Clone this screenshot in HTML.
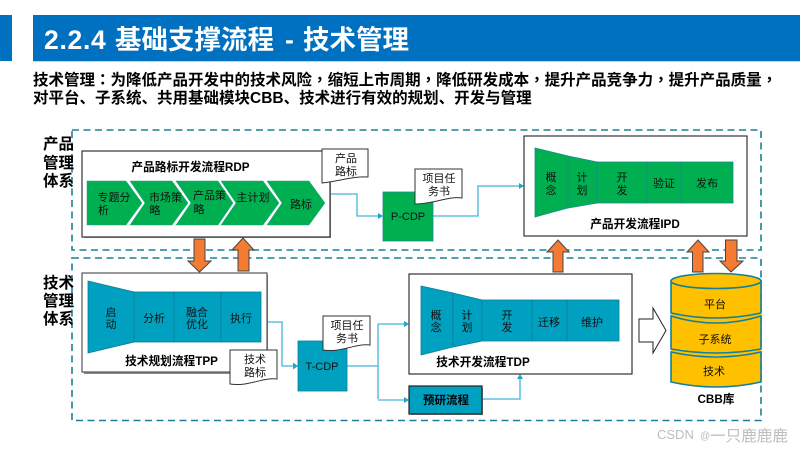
<!DOCTYPE html>
<html>
<head>
<meta charset="utf-8">
<style>
html,body{margin:0;padding:0;background:#fff;width:800px;height:450px;overflow:hidden}
svg{display:block}
text{font-family:"Liberation Sans","Noto Sans CJK SC",sans-serif;fill:#111;text-anchor:middle}
.s{font-size:11px}
.b{font-size:11.7px;font-weight:700;fill:#000}
.l{font-size:15.5px;font-weight:700;fill:#000;text-anchor:start}
.h{font-size:15.5px;font-weight:700;fill:#000;text-anchor:start}
.p{font-family:"Noto Sans CJK TC",sans-serif}
.ti{font-size:26.5px;font-weight:700;fill:#fff;text-anchor:start}
.dash{fill:none;stroke:#1A8098;stroke-width:1.6;stroke-dasharray:7 4.5}
.box{fill:#fff;stroke:#333;stroke-width:1.2}
.g{fill:#00B050;stroke:#2A9D8F;stroke-width:.5}
.gs{fill:#00B050;stroke:#1B8A8E;stroke-width:.8}
.t{fill:#00A0C0;stroke:#0D7F99;stroke-width:.8}
.ar{fill:#F57A32;stroke:#444;stroke-width:1}
.doc{fill:#fff;stroke:#333;stroke-width:1}
.c{fill:none;stroke:#45B5D6;stroke-width:1.3}
.a{fill:#1FA5C8}
.cy{fill:#FFC000;stroke:#12809A;stroke-width:1.6}
.w{fill:#BDBDBD;text-anchor:start}
</style>
</head>
<body>
<svg width="800" height="450" viewBox="0 0 800 450" xmlns="http://www.w3.org/2000/svg">
<rect width="800" height="450" fill="#fff"/>
<!-- header -->
<rect x="0" y="15" width="12" height="46" fill="#0070C0"/>
<rect x="33" y="15" width="767" height="46" fill="#0070C0"/>
<rect x="33" y="61" width="767" height="1" fill="#BBD8EF"/>
<text class="ti" x="44" y="49" style="letter-spacing:.7px">2.2.4</text>
<text class="ti" x="115" y="49">基础支撑流程</text>
<text class="ti" x="285" y="49">-</text>
<text class="ti" x="303" y="49">技术管理</text>
<text class="h" x="33" y="85">技术管理<tspan class="p" lang="zh-TW">：</tspan>为降低产品开发中的技术风险<tspan class="p" lang="zh-TW">，</tspan>缩短上市周期<tspan class="p" lang="zh-TW">，</tspan>降低研发成本<tspan class="p" lang="zh-TW">，</tspan>提升产品竞争力<tspan class="p" lang="zh-TW">，</tspan>提升产品质量<tspan class="p" lang="zh-TW">，</tspan></text>
<text class="h" x="33" y="103">对平台、子系统、共用基础模块CBB、技术进行有效的规划、开发与管理</text>

<!-- dashed regions -->
<rect class="dash" x="72" y="130" width="689" height="120"/>
<rect class="dash" x="72" y="258" width="689" height="162.500"/>

<!-- side labels -->
<text class="l" x="43" y="149">产品</text>
<text class="l" x="43" y="168">管理</text>
<text class="l" x="43" y="186">体系</text>
<text class="l" x="43" y="288">技术</text>
<text class="l" x="43" y="306">管理</text>
<text class="l" x="43" y="324">体系</text>

<!-- connectors -->
<path class="c" d="M330 194H357V216H378"/>
<path class="a" d="M383 216l-5-3v6z"/>
<path class="c" d="M433 216H478V186H519"/>
<path class="a" d="M524 186l-5-3v6z"/>
<path class="c" d="M267 322H282V366H293"/>
<path class="a" d="M298 366l-5-3.500v7z"/>
<path class="c" d="M347 366H378M378 324V399M378 324H404M378 400H404"/>
<path class="a" d="M409 324l-5-3v6zM409 400l-5-3v6z"/>
<path class="c" d="M482 399H520V379"/>
<path class="a" d="M520 374l-3 5h6z"/>

<!-- RDP -->
<rect x="84" y="153" width="247" height="85" fill="#999"/>
<rect class="box" x="82" y="151" width="248" height="86"/>
<text class="b" x="190.500" y="171">产品路标开发流程RDP</text>
<path class="g" d="M87 181H126L142 203L126 225H87z"/>
<path class="g" d="M130 181H172L188 203L172 225H130L145 203z"/>
<path class="g" d="M176 181H218L233 203L218 225H176L191 203z"/>
<path class="g" d="M221 181H263L279 203L263 225H221L236 203z"/>
<path class="g" d="M267 181H309L325 203L309 225H267L282 203z"/>
<text class="s" x="114" y="201">专题分</text>
<text class="s" x="103.500" y="214">析</text>
<text class="s" x="165.500" y="201">市场策</text>
<text class="s" x="155" y="214">略</text>
<text class="s" x="209.500" y="199">产品策</text>
<text class="s" x="199" y="213">略</text>
<text class="s" x="253" y="201">主计划</text>
<text class="s" x="301" y="208">路标</text>

<!-- doc: 产品路标 -->
<path class="doc" d="M322 149H368V177C354 176 340 181 322 183z"/>
<text class="s" x="346" y="162">产品</text>
<text class="s" x="346" y="175">路标</text>

<!-- P-CDP -->
<rect class="gs" x="383" y="192" width="50" height="49"/>
<text class="s" x="408" y="220">P-CDP</text>
<path class="doc" d="M415 169H462V198C448 196 434 204 415 204z"/>
<text class="s" x="439" y="182">项目任</text>
<text class="s" x="439" y="195">务书</text>

<!-- IPD -->
<rect class="box" x="524" y="136" width="223" height="100"/>
<path class="gs" d="M535 148L568 156V208L535 217z"/>
<path class="gs" d="M568 156L597 162V203L568 208z"/>
<rect class="gs" x="597" y="162" width="50" height="41"/>
<rect class="gs" x="647" y="162" width="34" height="41"/>
<rect class="gs" x="681" y="162" width="52" height="41"/>
<text class="s" x="551" y="181">概</text>
<text class="s" x="551" y="194">念</text>
<text class="s" x="582" y="181">计</text>
<text class="s" x="582" y="194">划</text>
<text class="s" x="622" y="181">开</text>
<text class="s" x="622" y="194">发</text>
<text class="s" x="664" y="187">验证</text>
<text class="s" x="707" y="187">发布</text>
<text class="b" x="635" y="228">产品开发流程IPD</text>

<!-- TPP -->
<rect x="84" y="275" width="184" height="99" fill="#888"/>
<rect class="box" x="82" y="273" width="185" height="99" style="stroke:#555"/>
<path class="t" d="M88 281L134 292V342L88 353z"/>
<rect class="t" x="134" y="292" width="40" height="50"/>
<rect class="t" x="174" y="292" width="47" height="50"/>
<rect class="t" x="221" y="292" width="40" height="50"/>
<text class="s" x="111" y="316">启</text>
<text class="s" x="111" y="328">动</text>
<text class="s" x="154" y="322">分析</text>
<text class="s" x="197" y="316">融合</text>
<text class="s" x="197" y="328">优化</text>
<text class="s" x="241" y="322">执行</text>
<text class="b" x="171.500" y="365">技术规划流程TPP</text>
<path class="doc" d="M230 350H277V379C263 377 248 387 230 384z"/>
<text class="s" x="255" y="363">技术</text>
<text class="s" x="255" y="376">路标</text>

<!-- T-CDP -->
<rect class="t" x="298" y="341" width="49" height="50"/>
<text class="s" x="322" y="370">T-CDP</text>
<path class="doc" d="M323 316H370V345C356 343 341 353 323 350z"/>
<text class="s" x="347" y="329">项目任</text>
<text class="s" x="347" y="342">务书</text>

<!-- TDP -->
<rect class="box" x="409" y="274" width="223" height="100"/>
<path class="t" d="M421 286L453 293V347L421 355z"/>
<path class="t" d="M453 293L482 300V341L453 347z"/>
<rect class="t" x="482" y="300" width="50" height="41"/>
<rect class="t" x="532" y="300" width="35" height="41"/>
<rect class="t" x="567" y="300" width="52" height="41"/>
<text class="s" x="436" y="319">概</text>
<text class="s" x="436" y="331">念</text>
<text class="s" x="467" y="319">计</text>
<text class="s" x="467" y="331">划</text>
<text class="s" x="507" y="319">开</text>
<text class="s" x="507" y="331">发</text>
<text class="s" x="549" y="326">迁移</text>
<text class="s" x="592" y="326">维护</text>
<text class="b" x="483" y="366">技术开发流程TDP</text>

<!-- pre-research -->
<rect x="411" y="388" width="72" height="27" fill="#999"/>
<rect x="409" y="386" width="73" height="28" fill="#00A0C0" stroke="#222" stroke-width="1.2"/>
<text x="446" y="404" style="font-size:11.500px;font-weight:700;fill:#000">预研流程</text>

<!-- orange arrows -->
<path class="ar" d="M194 239H205V261H211L199.500 272L188 261H194z"/>
<path class="ar" d="M238 271V250H232L243 238L254 250H249V271z"/>
<path class="ar" d="M553 272V252H547L558 240L569 252H563V272z"/>
<path class="ar" d="M692.500 272V252H687L698 240L709 252H703V272z"/>
<path class="ar" d="M725.500 240H737V261H743L731 272L720 261H725.500z"/>

<!-- white arrow -->
<path d="M639 319H653V308L666 330.500L653 353V342H639z" fill="#fff" stroke="#222" stroke-width="1"/>

<!-- cylinder stack -->
<rect x="671" y="281" width="90" height="75" fill="#FFC000"/>
<path class="cy" d="M671 352Q716 362 761 352V382Q716 392 671 382z"/>
<path class="cy" d="M671 316Q716 330 761 316V349Q716 357 671 349z"/>
<path class="cy" d="M671 281V313Q716 323 761 313V281z"/>
<ellipse class="cy" cx="716" cy="281" rx="45" ry="7.500"/>
<text class="s" x="715" y="308">平台</text>
<text class="s" x="715" y="343">子系统</text>
<text class="s" x="714" y="375">技术</text>
<text class="b" x="716" y="403">CBB库</text>

<!-- watermark -->
<text class="w" x="657" y="439" style="font-size:13px">CSDN</text>
<text class="w" x="700" y="439" style="font-size:10px">@</text>
<text class="w" x="710" y="441" style="font-size:15.600px">一只鹿鹿鹿</text>
</svg>
</body>
</html>
